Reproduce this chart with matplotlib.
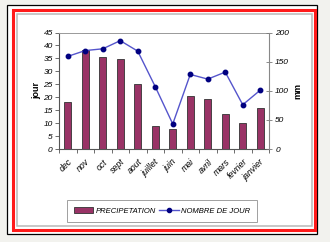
import matplotlib
matplotlib.use("Agg")
import matplotlib.pyplot as plt
from matplotlib.patches import Rectangle
from matplotlib.lines import Line2D
import numpy as np

months = ["dec", "nov", "oct", "sept", "aout", "juillet", "juin", "mai", "avril", "mars", "fevrier", "janvier"]
precipitation = [18.0, 38.2, 35.4, 34.6, 25.1, 8.9, 7.6, 20.5, 19.3, 13.4, 9.9, 15.9]
nombre_de_jour = [159, 169, 172, 186, 168, 107, 43, 128, 120, 132, 76, 101]
left_ticks = [0, 5, 10, 15, 20, 25, 30, 35, 40, 45]
right_ticks = [0, 50, 100, 150, 200]

plt.rcParams['font.family'] = ['Liberation Sans', 'DejaVu Sans']

W, H = 330, 242
fig = plt.figure(figsize=(W / 100, H / 100), dpi=100)
fig.patch.set_facecolor("#f2f2ee")

def frect(x0, y0, x1, y1, **kw):
    fig.patches.append(Rectangle((x0 / W, 1 - y1 / H), (x1 - x0) / W, (y1 - y0) / H,
                                 transform=fig.transFigure, zorder=-5, **kw))

frect(7, 4.5, 317, 233.5, facecolor="white", edgecolor="black", linewidth=0.9)
frect(12.5, 9.5, 315, 229.5, facecolor="none", edgecolor="#ff1a1a", linewidth=2.2)
frect(16.5, 13.5, 312, 225.5, facecolor="none", edgecolor="#b8b8b8", linewidth=1.1)

ax = fig.add_axes([59 / W, 1 - 149 / H, 210 / W, 116.5 / H])
ax.set_facecolor("white")
x = np.arange(len(months))
ax.bar(x, precipitation, width=0.42, color="#993366", edgecolor="#333333", linewidth=0.6, zorder=2)
ax.set_xlim(-0.5, len(months) - 0.5)
ax.set_ylim(0, 45)
ax.set_yticks(left_ticks)
ax.set_yticklabels([str(t) for t in left_ticks], fontsize=6, style="italic")
ax.set_xticks(x)
ax.set_xticklabels(months, rotation=45, ha="right", va="top", fontsize=6.3, style="italic",
                   rotation_mode="anchor")
ax.tick_params(axis="x", length=0, pad=6)
ax.set_xticks(np.arange(-0.5, len(months) + 0.5, 1), minor=True)
ax.tick_params(axis="x", which="minor", length=3, width=0.6, color="#555555")
ax.tick_params(axis="y", length=3, width=0.6, pad=1.5, color="#555555")
for s in ["top", "right"]:
    ax.spines[s].set_color("#999999")
    ax.spines[s].set_linewidth(0.7)
for s in ["left", "bottom"]:
    ax.spines[s].set_color("#555555")
    ax.spines[s].set_linewidth(0.8)
ax.set_ylabel("jour", fontsize=6.5, fontweight="bold", labelpad=2)

ax2 = ax.twinx()
ax2.plot(x, nombre_de_jour, color="#5555cc", linewidth=1.0, marker="o", markersize=3.2,
         markerfacecolor="#000080", markeredgecolor="#000080", zorder=3)
ax2.set_ylim(0, 200)
ax2.set_yticks(right_ticks)
ax2.set_yticklabels([str(t) for t in right_ticks], fontsize=6, style="italic")
ax2.tick_params(axis="y", direction="inout", length=5, width=0.6, pad=2, color="#777777")
ax2.spines["right"].set_color("#888888")
ax2.spines["right"].set_linewidth(0.8)
for s in ["top", "left", "bottom"]:
    ax2.spines[s].set_visible(False)
ax2.set_ylabel("mm", fontsize=6.5, fontweight="bold", labelpad=3)

handles = [Rectangle((0, 0), 1, 1, facecolor="#993366", edgecolor="#333333", linewidth=0.6),
           Line2D([], [], color="#5555cc", linewidth=1.0, marker="o", markersize=3,
                  markerfacecolor="#000080", markeredgecolor="#000080")]
leg = fig.legend(handles, ["PRECIPETATION", "NOMBRE DE JOUR"], loc="center",
                 bbox_to_anchor=(162 / W, 1 - 211 / H), ncol=2, frameon=True, fancybox=False,
                 prop={"size": 5.5, "style": "italic"}, handlelength=2.6, handletextpad=0.3,
                 columnspacing=0.4, borderpad=0.9, edgecolor="#888888")
leg.get_frame().set_linewidth(0.7)

fig.savefig("out.png", dpi=100, facecolor=fig.get_facecolor())
